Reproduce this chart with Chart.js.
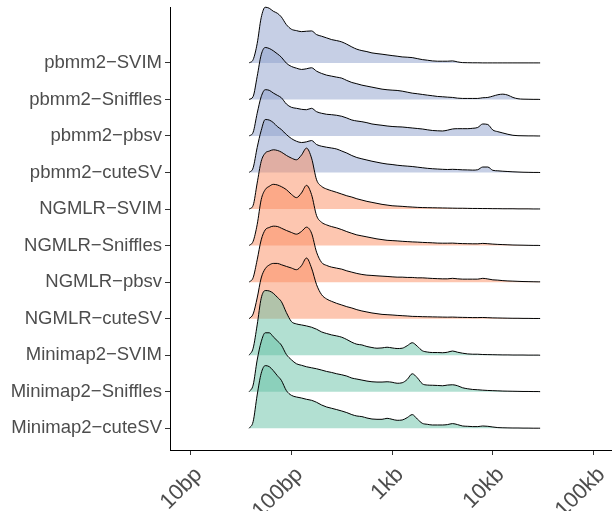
<!DOCTYPE html>
<html><head><meta charset="utf-8">
<script src="https://cdn.jsdelivr.net/npm/chart.js@4.4.0/dist/chart.umd.min.js"></script>
<style>html,body{margin:0;padding:0;background:#fff;}canvas{display:block;}</style>
</head><body>
<canvas id="c" width="612" height="511"></canvas>
<script>
// Categories, top to bottom
const categories = ['pbmm2−SVIM','pbmm2−Sniffles','pbmm2−pbsv','pbmm2−cuteSV',
  'NGMLR−SVIM','NGMLR−Sniffles','NGMLR−pbsv','NGMLR−cuteSV',
  'Minimap2−SVIM','Minimap2−Sniffles','Minimap2−cuteSV'];
const aligners = ['pbmm2','pbmm2','pbmm2','pbmm2','NGMLR','NGMLR','NGMLR','NGMLR','Minimap2','Minimap2','Minimap2'];

// SV length grid (log10 bp)
const lenLog10 = [1.58,1.62,1.66,1.70,1.74,1.78,1.82,1.86,1.90,
  1.95,2.00,2.05,2.10,2.15,2.20,2.25,2.30,2.35,2.40,
  2.45,2.50,2.55,2.60,2.65,2.70,2.75,2.80,2.85,2.90,
  2.95,3.00,3.05,3.10,3.15,3.20,3.25,3.30,3.35,3.40,
  3.45,3.50,3.55,3.60,3.65,3.70,3.75,3.80,3.85,3.90,
  3.95,4.00,4.05,4.10,4.15,4.20,4.25,4.30,4.35,4.40,
  4.45,4.47];

const xTickValues = [1,2,3,4,5];
const xTickLabels = ['10bp','100bp','1kb','10kb','100kb'];

// Density heights
const pbmm2_SVIM = [0,3.3,19.3,45.3,55.7,54.7,51.7,49.7,46,
 38.3,33.7,32.3,31.3,31.7,32,28.3,26.7,25,23.3,
 22.3,21,18.7,16,13.7,12.3,11.3,10,9.3,8.7,
 8,7.3,6.7,6,5.7,5.3,4.3,3.3,2.7,2,
 1.7,1.7,1.7,2,1,0.3,0.2,0.1,0.1,0,
 0,0,0,0,0,0,0,0,0,0,
 0,0];
const pbmm2_Sniffles = [0,3,23,44.7,52,51,48.7,45.7,42.3,
 36.3,33,31.3,30,30.7,31.7,28.3,26,24.3,23.3,
 22.3,21.3,19,17,15.7,14.3,13.3,12.3,11.3,10.3,
 9.7,9.3,9,8.3,7.3,6.3,5.7,5,4.3,3.7,
 3,2.7,2.3,2,1.3,1,1,1,1,1.7,
 2,3.3,4.7,5.3,4.3,2,0.7,0.3,0.2,0.1,
 0.1,0];
const pbmm2_pbsv = [0,3.7,22.7,39.3,46.3,45.7,43,40.7,38.3,
 32,28.7,27.7,26.7,26.3,27.7,24.3,22.7,21.7,21.3,
 20.7,19.7,18,16,15,14.3,13.3,12,11.3,10.7,
 10,9.5,9.2,9,8.5,8,7.5,7,6.2,5.5,
 5.2,5,5.8,7,7.3,7.3,7.3,7.7,8.5,12,
 11.5,6,4.3,3,1.7,0.7,0.3,0.2,0.1,0.1,
 0,0];
const pbmm2_cuteSV = [0,4.7,25,42,53,52.5,50,46,43,
 38,34,31.3,30,30.7,32,28,26.3,25.3,24.5,
 23.5,21.5,19.5,17,15,13.7,12.5,11.3,10.3,9.3,
 8.5,8,7.3,6.8,6.4,6,5.4,4.8,4.2,3.8,
 3.5,3.2,3,3.2,3,2.7,2.6,2.4,2.8,5.5,
 5.5,2.2,1.7,1.3,1,0.7,0.5,0.3,0.2,0.1,
 0.1,0];
const NGMLR_SVIM = [0,3.7,26,47.7,56,58,59.3,58.7,57,
 53.7,51,49.3,54,61,51,29.3,22.7,20,18.3,
 16.7,15,13.3,12,10.3,9,7.7,6.7,5.7,4.7,
 4,3.3,3,2.7,2.3,2,1.7,1.5,1.4,1.3,
 1.2,1.1,1,0.9,0.8,0.8,0.7,0.6,0.6,0.5,
 0.5,0.4,0.4,0.3,0.3,0.3,0.2,0.2,0.2,0.1,
 0.1,0.1];
const NGMLR_Sniffles = [0,4.3,21,46,56,59.3,61.3,60.7,59,
 56,51.3,48,52.7,60.3,51,30,23.3,20.7,19,
 17.7,16,14,12.3,10.7,9.7,8.7,7.7,6.7,6,
 5.3,5,4.7,4.3,4,3.7,3.5,3.2,3,2.8,
 2.5,2.4,2.4,2.5,2.2,2,1.9,1.8,1.8,2.2,
 1.9,1.5,1.2,1,0.8,0.6,0.5,0.4,0.3,0.2,
 0.2,0.1];
const NGMLR_pbsv = [0,4.5,22.3,42.3,52.3,54.7,56,55.7,54,
 51.7,49.7,48,50.7,55,49,30,19.7,16.7,15,
 14,13,11.3,10,8.7,7.7,7,6.7,6.3,6,
 5.7,5.3,5,5,4.7,4.7,4.3,4.3,4,3.7,
 3.5,3.3,3.3,3.8,3.3,3,3,3,3,3.8,
 3.2,2.3,2,1.5,1.2,1,0.8,0.6,0.5,0.4,
 0.3,0.3];
const NGMLR_cuteSV = [0,4.7,20.7,40.7,50,53.7,55.3,55.3,54,
 52.3,50.7,49,53,60.7,50.7,34,24,19.7,17.3,
 15.3,13.7,12,10.7,9,7.7,6.7,5.7,5,4.3,
 4,3.7,3.3,3,2.7,2.3,2.2,2,1.9,1.8,
 1.7,1.6,1.5,1.6,1.4,1.3,1.2,1.1,1.1,1.2,
 1,0.8,0.7,0.6,0.5,0.4,0.4,0.3,0.3,0.2,
 0.2,0.2];
const Minimap2_SVIM = [0,7,30.3,57,64.7,64.3,62,58,53.7,
 42.7,33.7,31.3,30.3,29.3,28,26,23.3,21.7,20.3,
 19.3,18,15.7,13,11,10.3,8.7,7.7,7,7.3,
 8,7.3,6.7,7,9.5,12.5,9,4.5,3.2,2.7,
 2.7,2.5,3,4.2,3,2,1.3,1,1,0.7,
 0.6,0.5,0.4,0.3,0.3,0.2,0.2,0.2,0.1,0.1,
 0.1,0];
const Minimap2_Sniffles = [0,6.7,31.7,50,59,59,55,51,46.7,
 37.3,32,28,26.5,25,24,23,21.7,20.3,19.3,
 18,17,15.7,13.7,12.7,11.7,10.7,10,9.7,9.7,
 10,9.5,8.5,9,12.3,18,14,8,6.7,6.5,
 6.3,6,6.7,7,6,4,3,2.3,2,1.6,
 1.3,1.1,0.9,0.7,0.6,0.5,0.4,0.3,0.3,0.2,
 0.2,0.1];
const Minimap2_cuteSV = [0,6.7,33.3,55,62.7,61.7,57.7,52.7,48,
 37.7,33,31.3,30.3,29,28,26,23.3,21.3,20,
 18.7,17.3,15.7,13.7,12.3,11.7,10.3,9.3,9,9,
 10,9,8,8.3,10.7,13.7,9.3,5,4,3.3,
 3.3,3.3,3.7,4.7,3.7,2.3,2,1.7,1.7,2.3,
 2,1.3,0.7,0.5,0.4,0.3,0.3,0.2,0.2,0.1,
 0.1,0.1];

const series = [pbmm2_SVIM,pbmm2_Sniffles,pbmm2_pbsv,pbmm2_cuteSV,
  NGMLR_SVIM,NGMLR_Sniffles,NGMLR_pbsv,NGMLR_cuteSV,
  Minimap2_SVIM,Minimap2_Sniffles,Minimap2_cuteSV];

const fillColors = {pbmm2:'rgba(141,160,203,0.5)', NGMLR:'rgba(252,141,98,0.5)', Minimap2:'rgba(102,194,165,0.5)'};
const ridgeScale = 1/36.56;   // rows per density unit
const nRows = categories.length;
const FONT = "'Liberation Sans', Arial, Helvetica, sans-serif";

const datasets = series.map((h, i) => {
  const base = nRows - i;
  return {
    label: categories[i],
    data: lenLog10.map((x, j) => ({x: x, y: base + h[j] * ridgeScale})),
    fill: {value: base},
    backgroundColor: fillColors[aligners[i]],
    borderColor: '#000',
    borderWidth: 1,
    pointRadius: 0,
    cubicInterpolationMode: 'monotone',
    order: nRows - 1 - i,
    clip: 4
  };
});

new Chart(document.getElementById('c'), {
  type: 'line',
  data: {datasets},
  options: {
    responsive: false,
    animation: false,
    devicePixelRatio: 1,
    layout: {padding: {top: 7, left: 0, right: 0, bottom: 0}},
    plugins: {legend: {display: false}, tooltip: {enabled: false}},
    scales: {
      x: {
        type: 'linear', min: 0.7944, max: 5.1837,
        afterBuildTicks: s => { s.ticks = xTickValues.map(v => ({value: v})); },
        ticks: {
          callback: v => xTickLabels[xTickValues.indexOf(v)],
          minRotation: 45, maxRotation: 45, autoSkip: false,
          color: '#4d4d4d', font: {family: FONT, size: 22}, padding: 7, labelOffset: 8
        },
        grid: {display: true, drawOnChartArea: false, drawTicks: true, tickLength: 5, tickColor: '#333', tickWidth: 1},
        border: {display: true, color: '#000', width: 1},
        afterFit: s => { s.height = 61; s.paddingLeft = 0; s.paddingRight = 0; }
      },
      y: {
        type: 'linear', min: 0.406, max: 12.53,
        afterBuildTicks: s => { s.ticks = categories.map((c, i) => ({value: nRows - i})); },
        ticks: {
          callback: v => categories[nRows - v],
          autoSkip: false, color: '#4d4d4d', font: {family: FONT, size: 18.5}, padding: 3
        },
        grid: {display: true, drawOnChartArea: false, drawTicks: true, tickLength: 5, tickColor: '#333', tickWidth: 1},
        border: {display: true, color: '#000', width: 1},
        afterFit: s => { s.width = 170; s.paddingTop = 0; s.paddingBottom = 0; }
      }
    }
  }
});
</script>
</body></html>
